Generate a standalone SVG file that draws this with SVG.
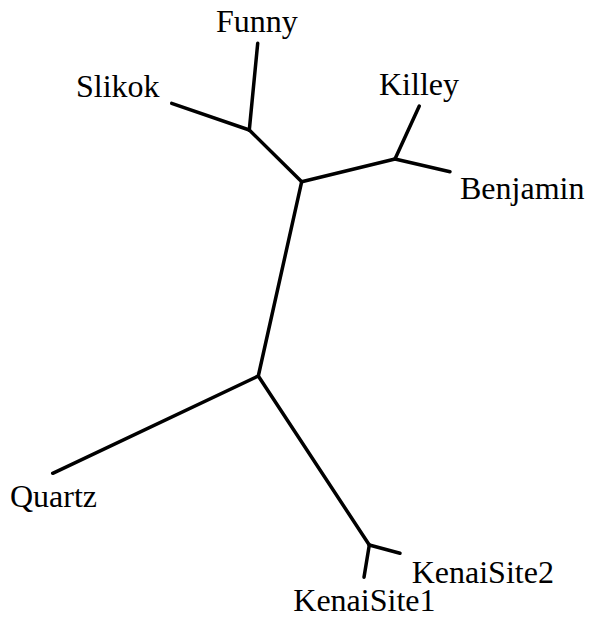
<svg xmlns="http://www.w3.org/2000/svg" width="592" height="620" viewBox="0 0 592 620">
  <style>
    .edge { stroke: #000; stroke-width: 3.5; stroke-linecap: round; fill: none; }
    .label { font-family: "Liberation Serif", "Times New Roman", serif; font-size: 32px; fill: #000; }
  </style>
  <rect width="592" height="620" fill="#fff"/>
  <g id="connectors">
    <line class="edge" x1="258.3" y1="376" x2="301.7" y2="181.7"/>
    <line class="edge" x1="301.7" y1="181.7" x2="249.3" y2="130"/>
    <line class="edge" x1="249.3" y1="130" x2="257.7" y2="43.3"/>
    <line class="edge" x1="249.3" y1="130" x2="171.7" y2="103.3"/>
    <line class="edge" x1="301.7" y1="181.7" x2="395" y2="159"/>
    <line class="edge" x1="395" y1="159" x2="419.3" y2="106"/>
    <line class="edge" x1="395" y1="159" x2="450" y2="171.7"/>
    <line class="edge" x1="258.3" y1="376" x2="52.7" y2="473.3"/>
    <line class="edge" x1="258.3" y1="376" x2="369.3" y2="545"/>
    <line class="edge" x1="369.3" y1="545" x2="400" y2="553.3"/>
    <line class="edge" x1="369.3" y1="545" x2="364" y2="577.3"/>
  </g>
  <g id="node-funny"><text class="label" x="216" y="32">Funny</text></g>
  <g id="node-slikok"><text class="label" x="76" y="97">Slikok</text></g>
  <g id="node-killey"><text class="label" x="379" y="95">Killey</text></g>
  <g id="node-benjamin"><text class="label" x="460" y="199">Benjamin</text></g>
  <g id="node-quartz"><text class="label" x="10" y="506.7">Quartz</text></g>
  <g id="node-kenaisite2"><text class="label" x="411.7" y="582.7">KenaiSite2</text></g>
  <g id="node-kenaisite1"><text class="label" x="293.3" y="610.7">KenaiSite1</text></g>
</svg>
